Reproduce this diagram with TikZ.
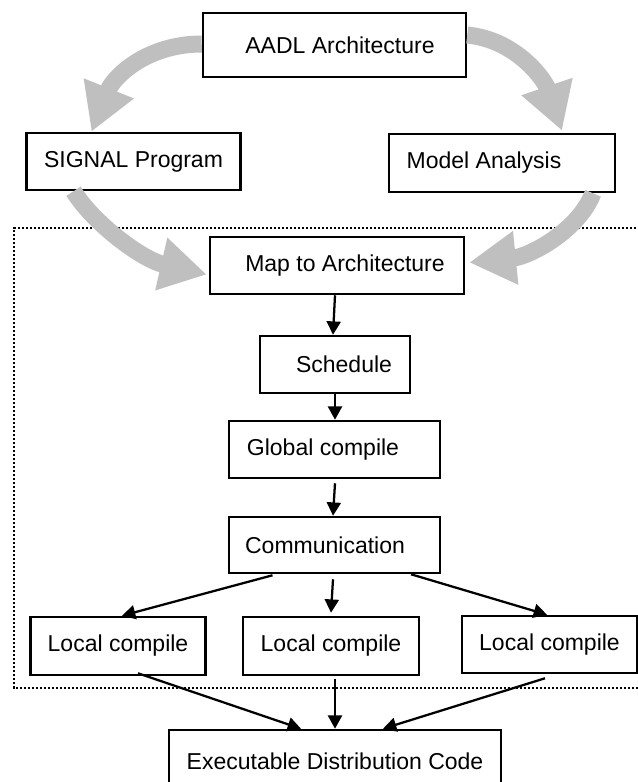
\documentclass[tikz,border=0pt]{standalone}
\usepackage{fontspec}
\setmainfont{Liberation Sans}
\usetikzlibrary{arrows.meta,calc}
\definecolor{arrgray}{RGB}{191,191,191}
\newlength\pxu
\setlength\pxu{0.75pt}
\begin{document}
\begin{tikzpicture}[x=0.75pt,y=-0.75pt,
  procbox/.style 2 args={draw, line width=1.9pt, fill=white,
    minimum width=#1*0.75pt, minimum height=#2*0.75pt, inner sep=0pt,
    font=\fontsize{17.25pt}{20pt}\selectfont},
  flow/.style={line width=1.7pt, -{Triangle[length=10pt,width=10.5pt]}},
  bigflow/.style={line width=12.75pt, draw=arrgray, -{Triangle[length=35pt,width=38pt,fill=arrgray]}},
  region/.style={line width=1.6pt, dash pattern=on 1.6pt off 1.4pt}]
\useasboundingbox (0,0) rectangle (638,782);
\fill[white] (0,0) rectangle (638,782);

% dotted region
\draw[region] (660,228) -- (14,228) -- (14,688) -- (660,688);

% boxes
\node[procbox={263}{64}] (aadl)   at (334.5,45)   {\hspace*{11\pxu}AADL Architecture};
\node[procbox={214}{57}] (signal) at (133.5,161.5) {SIGNAL Program};
\node[procbox={226}{58}] (model)  at (502,163)    {Model Analysis\hspace*{36\pxu}};
\node[procbox={254}{57}] (map)    at (337,265.5)  {\hspace*{16\pxu}Map to Architecture};
\node[procbox={150}{57}] (sched)  at (335,364.5)  {\hspace*{18\pxu}Schedule};
\node[procbox={211}{57}] (glob)   at (334.5,449.5) {Global compile\hspace*{23\pxu}};
\node[procbox={211}{56}] (comm)   at (334.5,545)  {Communication\hspace*{19\pxu}};
\node[procbox={175}{58}] (loc1)   at (118,646)    {Local compile};
\node[procbox={176}{58}] (loc2)   at (331,646)    {Local compile};
\node[procbox={175}{57}] (loc3)   at (549.5,644.5) {Local compile};
\node[procbox={332}{62}] (exec)   at (335,761)    {Executable Distribution Code};

% big gray arrows
\draw[bigflow] ($(aadl.west)+(0,-1)$) .. controls +(-55,0) and +(22,-55) .. ($(signal.north)+(-42,0)$);
\draw[bigflow] ($(aadl.east)+(0,-10)$) .. controls +(50,5) and +(-17,-50) .. ($(model.north)+(60,-2)$);
\draw[bigflow] ($(signal.south)+(-60,0)$) .. controls +(20,32) and +(-65,-15) .. ($(map.west)+(-2,9)$);
\draw[bigflow] ($(model.south)+(91,0)$) .. controls +(-15,38) and +(60,-6) .. ($(map.east)+(4,-3)$);

% black arrows
\draw[flow] ($(map.south)+(-2,0)$) -- ($(sched.north)+(-2,0)$);
\draw[flow] (sched.south) -- ($(glob.north)+(0.5,0)$);
\draw[flow] ($(glob.south)+(0.5,4)$) -- ($(comm.north)+(-1.5,0)$);
\draw[flow] ($(comm.south)+(-62,1)$) -- ($(loc1.north)+(4,0)$);
\draw[flow] ($(comm.south)+(-1.5,5)$) -- ($(loc2.north)+(0,-3)$);
\draw[flow] ($(comm.south)+(76.5,0)$) -- ($(loc3.north)+(-2.5,0)$);
\draw[flow] ($(loc1.south)+(20,-3)$) -- ($(exec.north)+(-34,0)$);
\draw[flow] ($(loc2.south)+(4,3)$) -- (exec.north);
\draw[flow] ($(loc3.south)+(-4.5,4)$) -- ($(exec.north)+(48,0)$);
\end{tikzpicture}
\end{document}
